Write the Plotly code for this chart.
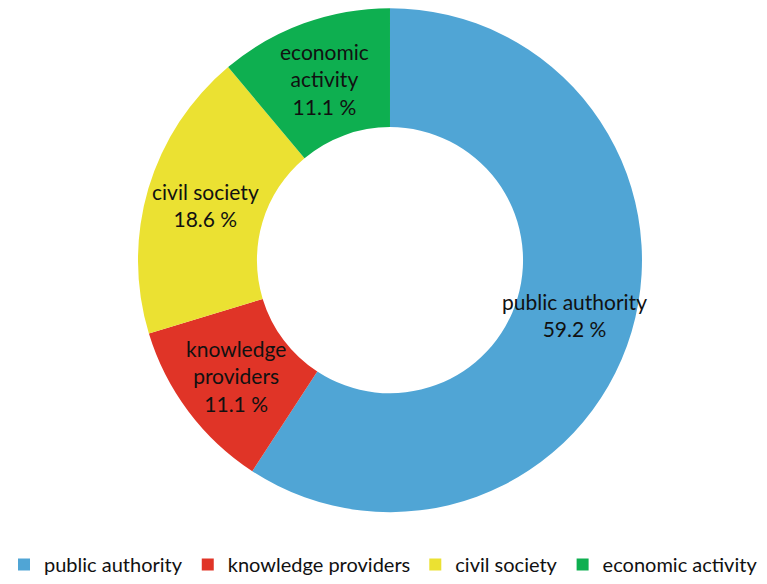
import math
import plotly.graph_objects as go

# Share of stakeholder groups (percent)
categories = ["public authority", "knowledge providers", "civil society", "economic activity"]
slice_labels = ["public authority", "knowledge<br>providers", "civil society", "economic<br>activity"]
shares = [59.2, 11.1, 18.6, 11.1]
colors = ["#50A5D5", "#E03427", "#EBE132", "#0EAF50"]

W, H = 767, 584
dom_x = [0.1799, 0.837]
dom_y = [0.123, 0.986]
hole = 0.528

fig = go.Figure(
    go.Pie(
        labels=categories,
        values=shares,
        textinfo="none",
        marker=dict(colors=colors, line=dict(width=0)),
        hole=hole,
        sort=False,
        direction="clockwise",
        rotation=0,
        domain=dict(x=dom_x, y=dom_y),
        hoverinfo="label+percent",
    )
)

# Slice labels placed at the middle of each ring segment
cx = (dom_x[0] + dom_x[1]) / 2 * W
cy = (dom_y[0] + dom_y[1]) / 2 * H
outer = min((dom_x[1] - dom_x[0]) * W, (dom_y[1] - dom_y[0]) * H) / 2
mid_r = outer * (1 + hole) / 2
total = sum(shares)
cum = 0.0
for lab, v in zip(slice_labels, shares):
    ang = 2 * math.pi * (cum + v / 2) / total
    cum += v
    px = cx + mid_r * math.sin(ang)
    py = cy + mid_r * math.cos(ang)
    fig.add_annotation(
        x=px / W, y=py / H, xref="paper", yref="paper",
        text=f"{lab}<br>{v:.1f} %", showarrow=False,
        font=dict(size=21, family="Lato", color="#111111"),
        align="center", xanchor="center", yanchor="middle",
    )

fig.update_layout(
    width=W,
    height=H,
    margin=dict(l=0, r=0, t=0, b=0),
    paper_bgcolor="white",
    plot_bgcolor="white",
    font=dict(family="Lato", size=20, color="#111111"),
    showlegend=True,
    legend=dict(
        orientation="h",
        x=0.5,
        xanchor="center",
        y=0.0,
        yanchor="bottom",
        font=dict(size=20, family="Lato", color="#111111"),
        itemwidth=30,
        traceorder="normal",
    ),
)

fig.write_html("out.html")
